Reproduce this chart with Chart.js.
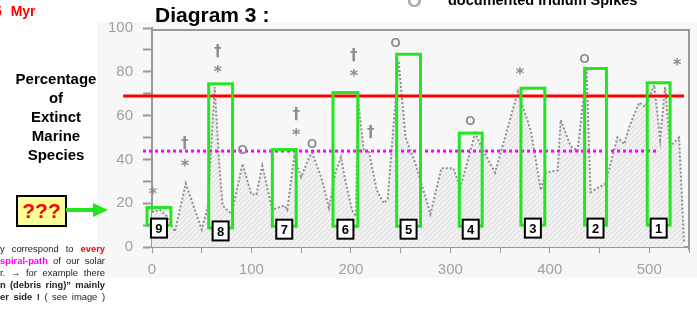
<!DOCTYPE html>
<html>
<head>
<meta charset="utf-8">
<script src="https://cdn.jsdelivr.net/npm/chart.js@4.4.1/dist/chart.umd.min.js"></script>
<style>
  body { margin: 0; width: 697px; height: 318px; overflow: hidden; position: relative; background: #fff; font-family: "Liberation Sans", Arial, sans-serif; }
  #canvas1 { position: absolute; left: 0; top: 0; }
  .lbl { position: absolute; white-space: nowrap; }
  #myr { left: -6px; top: 3px; color: #f00; font-weight: bold; font-size: 14px; word-spacing: 5px; }
  #title { left: 155px; top: 3px; font-weight: bold; font-size: 21px; color: #000; }
  #legO { left: 407px; top: -10px; font-weight: bold; font-size: 19px; color: #aaa; }
  #legTxt { left: 448px; top: -8px; font-weight: bold; font-size: 14.5px; color: #000; }
  #ylab { left: 4px; top: 69px; width: 104px; text-align: center; font-weight: bold; font-size: 15px; line-height: 19px; color: #000; white-space: normal; }
  #qq { left: 16px; top: 195px; width: 47px; height: 28px; background: #ffff99; border: 2px solid #000; color: #f00; font-weight: bold; font-size: 21px; line-height: 28px; text-align: center; }
  #shaft { left: 66px; top: 208px; width: 28px; height: 4px; background: #22e622; }
  #head { left: 93px; top: 203px; width: 0; height: 0; border-top: 7px solid transparent; border-bottom: 7px solid transparent; border-left: 15px solid #22e622; }
  #note { left: 0; top: 243px; width: 105px; font-size: 9.4px; line-height: 12px; color: #222; }
  #note div { text-align: justify; text-align-last: justify; white-space: nowrap; }
  .red { color: #f00; font-weight: bold; }
  .mag { color: #f0f; font-weight: bold; }
  .b { font-weight: bold; }
</style>
</head>
<body>
<canvas id="canvas1" width="697" height="318"></canvas>
<div class="lbl" id="myr">5 Myr</div>
<div class="lbl" id="title">Diagram 3 :</div>
<div class="lbl" id="legO">O</div>
<div class="lbl" id="legTxt">documented Iridium Spikes</div>
<div class="lbl" id="ylab">Percentage<br>of<br>Extinct<br>Marine<br>Species</div>
<div class="lbl" id="qq">???</div>
<div class="lbl" id="shaft"></div>
<div class="lbl" id="head"></div>
<div class="lbl" id="note">
  <div>y correspond to <span class="red">every</span></div>
  <div><span class="mag">spiral-path</span> of our solar</div>
  <div>r. &rarr; for example there</div>
  <div class="b">n (debris ring)&rdquo; mainly</div>
  <div><span class="b">er side !</span> ( see image )</div>
</div>
<script>
// extinction curve, age in Myr ago
var ages = [0, 8, 15, 23, 34, 50, 56, 63, 68, 71, 80, 91, 100, 105, 111, 121, 133, 136, 143, 150,
            158, 161, 170, 178, 185, 190, 195, 201, 205, 207, 213, 218, 226, 233, 237, 248, 255, 265, 280, 291,
            303, 310, 325, 333, 345, 368, 381, 391, 396, 408, 411, 421, 428, 437, 441, 456, 468, 475, 480, 490,
            496, 505, 511, 516, 521, 530, 535];
var extinction = [16, 17, 14, 7, 29, 8, 18, 73, 35, 19, 15, 38, 24, 24, 37, 17, 19, 17, 41, 32,
                  41, 43, 32, 18, 35, 41, 29, 17, 14, 68, 44, 44, 26, 20, 22, 85, 50, 38, 15, 36,
                  36, 27, 52, 44, 34, 71, 53, 26, 34, 35, 58, 46, 44, 81, 25, 29, 50, 47, 55, 66,
                  64, 74, 49, 73, 46, 50, 2];

// symbols above the peaks
var markerAges = [1, 33, 33, 66, 66, 91, 145, 145, 161, 203, 203, 220, 245, 320, 370, 435, 528];
var markerValues = [25, 47, 38, 89, 81, 44, 60, 52, 47, 87, 79, 52, 93, 57.5, 80, 85.5, 84];
var markerSymbols = ['*', '†', '*', '†', '*', 'O', '†', '*', 'O', '†', '*', '†', 'O', 'O', '*', 'O', '*'];

// green highlight boxes 1..9
var boxLabels = ['1', '2', '3', '4', '5', '6', '7', '8', '9'];
var boxStart = [498, 435, 371, 309, 246, 182, 121, 57, -5];
var boxEnd = [521, 457, 395, 332, 270, 207, 145, 81, 19];
var boxTop = [75, 81.5, 72.5, 52, 88, 70.5, 44.5, 74.5, 18];
var boxBottom = [10, 10, 10, 9.5, 9.5, 9.5, 9.5, 8.7, 10];

// reference lines
var redLevel = 69, redFrom = -29, redTo = 535;
var pinkLevel = 43.8, pinkFrom = -9, pinkTo = 508;

var curve = ages.map(function (a, i) { return {x: a, y: extinction[i]}; });

var hatch = document.createElement('canvas');
hatch.width = 5; hatch.height = 5;
var hc = hatch.getContext('2d');
hc.fillStyle = '#f1f1f1';
hc.fillRect(0, 0, 5, 5);
hc.strokeStyle = '#dadada';
hc.lineWidth = 1;
hc.beginPath(); hc.moveTo(0, 5); hc.lineTo(5, 0); hc.stroke();

var scanBg = {
    id: 'scanBg',
    beforeDraw: function (chart) {
        var ctx = chart.ctx;
        ctx.save();
        ctx.fillStyle = '#f7f7f7';
        ctx.fillRect(97, 22, 600, 256);
        ctx.restore();
    }
};

var overlay = {
    id: 'overlay',
    afterDatasetsDraw: function (chart) {
        var ctx = chart.ctx, xs = chart.scales.x, ys = chart.scales.y, a = chart.chartArea;
        ctx.save();
        // top and right frame of the scanned plot
        ctx.strokeStyle = '#999';
        ctx.lineWidth = 2;
        ctx.beginPath();
        ctx.moveTo(a.left, a.top + 2); ctx.lineTo(a.right, a.top + 2); ctx.lineTo(a.right, a.bottom + 3);
        ctx.stroke();

        // markers
        ctx.textAlign = 'center';
        ctx.textBaseline = 'middle';
        ctx.fillStyle = '#8c8c8c';
        for (var i = 0; i < markerAges.length; i++) {
            var s = markerSymbols[i];
            var px = xs.getPixelForValue(markerAges[i]), py = ys.getPixelForValue(markerValues[i]);
            if (s == '*') {
                ctx.font = 'bold 16px "DejaVu Sans"';
                ctx.fillText('*', px, py + 3);
            } else if (s == '†') {
                ctx.font = 'bold 15px "DejaVu Sans"';
                ctx.fillText(s, px, py);
            } else {
                ctx.font = 'bold 13px "Liberation Sans"';
                ctx.fillText(s, px, py);
            }
        }

        // green boxes
        ctx.strokeStyle = '#22e622';
        ctx.lineWidth = 3;
        for (var j = 0; j < boxLabels.length; j++) {
            var x0 = xs.getPixelForValue(boxStart[j]), x1 = xs.getPixelForValue(boxEnd[j]);
            var y0 = ys.getPixelForValue(boxTop[j]), y1 = ys.getPixelForValue(boxBottom[j]);
            ctx.strokeRect(x0, y0, x1 - x0, y1 - y0);
        }
        // number tags
        ctx.font = 'bold 13px "Liberation Sans"';
        for (var k = 0; k < boxLabels.length; k++) {
            var cx = (xs.getPixelForValue(boxStart[k]) + xs.getPixelForValue(boxEnd[k])) / 2;
            var cy = ys.getPixelForValue(boxBottom[k]) + 3;
            ctx.fillStyle = '#fff';
            ctx.fillRect(cx - 8, cy - 9.5, 16, 19);
            ctx.strokeStyle = '#000';
            ctx.lineWidth = 2;
            ctx.strokeRect(cx - 8, cy - 9.5, 16, 19);
            ctx.fillStyle = '#000';
            ctx.fillText(boxLabels[k], cx, cy + 1);
        }
        ctx.restore();
    }
};

new Chart(document.getElementById('canvas1'), {
    type: 'line',
    data: {
        datasets: [{
            data: [{x: redFrom, y: redLevel}, {x: redTo, y: redLevel}],
            borderColor: '#ff0000',
            borderWidth: 3,
            pointRadius: 0,
            clip: false,
            order: 1
        }, {
            data: [{x: pinkFrom, y: pinkLevel}, {x: pinkTo, y: pinkLevel}],
            borderColor: '#ff00ff',
            borderWidth: 3,
            borderDash: [3, 3],
            pointRadius: 0,
            clip: false,
            order: 2
        }, {
            data: curve,
            borderColor: '#8f8f8f',
            borderWidth: 2,
            borderDash: [2, 2],
            backgroundColor: hc.createPattern(hatch, 'repeat'),
            fill: 'origin',
            pointRadius: 0,
            tension: 0,
            order: 3
        }]
    },
    options: {
        responsive: false,
        animation: false,
        layout: { padding: { left: 0, right: 5, top: 28, bottom: 0 } },
        plugins: { legend: { display: false }, tooltip: { enabled: false } },
        scales: {
            x: {
                type: 'linear',
                min: 0,
                max: 540,
                afterFit: function (scale) { scale.height = 71; },
                grid: { drawOnChartArea: false, tickLength: 6, color: '#999', tickColor: '#999' },
                border: { color: '#999', width: 2 },
                ticks: {
                    stepSize: 50,
                    padding: 8,
                    color: '#a0a0a0',
                    font: { family: 'Liberation Sans', size: 15 },
                    maxRotation: 0,
                    autoSkip: false,
                    callback: function (v) { return v % 100 == 0 ? v : ''; }
                }
            },
            y: {
                min: 0,
                max: 100,
                afterFit: function (scale) { scale.width = 152; },
                grid: { drawOnChartArea: false, tickLength: 9, color: '#999', tickColor: '#999', tickWidth: 2 },
                border: { color: '#999', width: 2 },
                ticks: {
                    stepSize: 10,
                    padding: 10,
                    color: '#a0a0a0',
                    font: { family: 'Liberation Sans', size: 15 },
                    autoSkip: false,
                    callback: function (v) { return v % 20 == 0 ? v : ''; }
                }
            }
        }
    },
    plugins: [scanBg, overlay]
});
</script>
</body>
</html>
